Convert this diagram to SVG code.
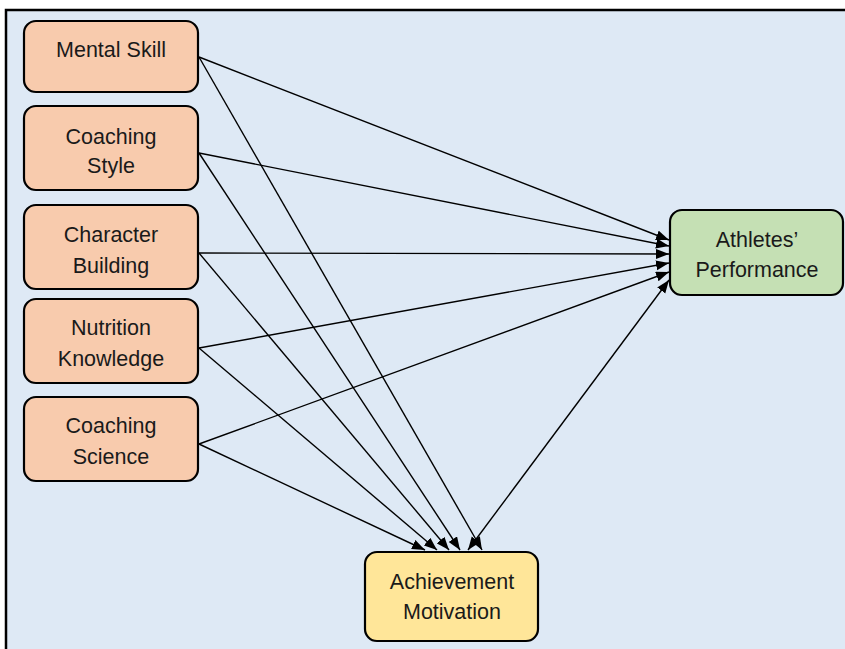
<svg xmlns="http://www.w3.org/2000/svg" width="845" height="649" viewBox="0 0 845 649">
<defs>
<style>
.frame{fill:#dee9f5;stroke:#000;stroke-width:2.5}
.box{stroke:#000;stroke-width:2.2}
.src{fill:#f8cbad}
.ap{fill:#c5e0b4}
.am{fill:#ffe699}
text{font-family:"Liberation Sans",Arial,sans-serif;font-size:21.5px;fill:#1a1a1a;text-anchor:middle}
.edge{stroke:#000;stroke-width:1.4;fill:none;marker-end:url(#arr)}
.both{marker-start:url(#arr)}
</style>
<marker id="arr" markerUnits="userSpaceOnUse" markerWidth="14" markerHeight="11" refX="13" refY="5" orient="auto-start-reverse">
<path d="M0,0 L13,5 L0,10 z" fill="#000"/>
</marker>
</defs>
<rect class="frame" x="6" y="10" width="860" height="660"/>
<g id="connectors">
<line class="edge" x1="199" y1="57" x2="669" y2="240"/>
<line class="edge" x1="199" y1="153" x2="669" y2="246"/>
<line class="edge" x1="199" y1="253" x2="669" y2="254"/>
<line class="edge" x1="199" y1="348" x2="669" y2="263"/>
<line class="edge" x1="199" y1="444" x2="669" y2="272"/>
<line class="edge" x1="199" y1="57" x2="482" y2="550"/>
<line class="edge" x1="199" y1="153" x2="460" y2="550"/>
<line class="edge" x1="199" y1="253" x2="449" y2="550"/>
<line class="edge" x1="199" y1="348" x2="437" y2="550"/>
<line class="edge" x1="199" y1="444" x2="425" y2="550"/>
<line class="edge both" x1="468" y1="550" x2="669" y2="280"/>
</g>
<g id="mental-skill">
<rect class="box src" x="24" y="21" width="174" height="71" rx="12"/>
<text x="111" y="57">Mental Skill</text>
</g>
<g id="coaching-style">
<rect class="box src" x="24" y="106" width="174" height="84" rx="12"/>
<text x="111" y="144">Coaching</text>
<text x="111" y="173">Style</text>
</g>
<g id="character-building">
<rect class="box src" x="24" y="205" width="174" height="84" rx="12"/>
<text x="111" y="242">Character</text>
<text x="111" y="273">Building</text>
</g>
<g id="nutrition-knowledge">
<rect class="box src" x="24" y="299" width="174" height="84" rx="12"/>
<text x="111" y="335">Nutrition</text>
<text x="111" y="366">Knowledge</text>
</g>
<g id="coaching-science">
<rect class="box src" x="24" y="397" width="174" height="84" rx="12"/>
<text x="111" y="433">Coaching</text>
<text x="111" y="464">Science</text>
</g>
<g id="athletes-performance">
<rect class="box ap" x="670" y="210" width="173" height="85" rx="12"/>
<text x="757" y="247">Athletes’</text>
<text x="757" y="277">Performance</text>
</g>
<g id="achievement-motivation">
<rect class="box am" x="365" y="552" width="173" height="89" rx="12"/>
<text x="452" y="589">Achievement</text>
<text x="452" y="619">Motivation</text>
</g>
</svg>
